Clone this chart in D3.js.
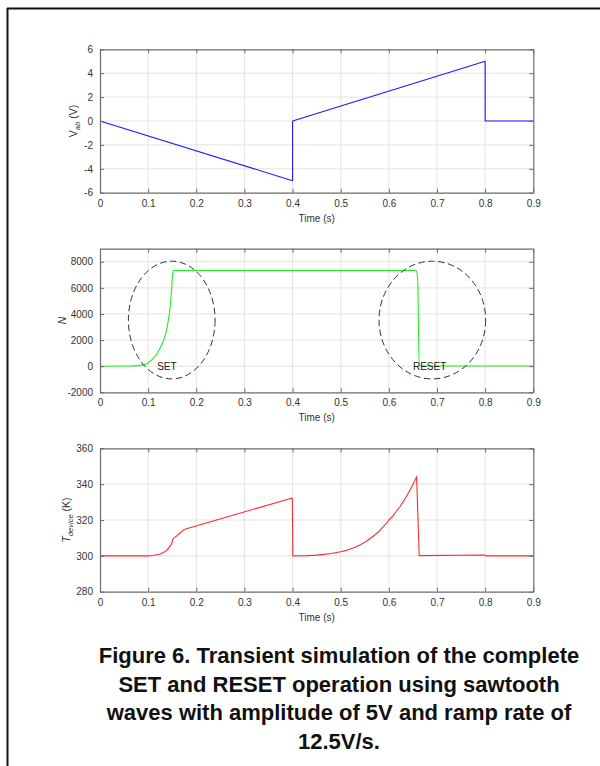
<!DOCTYPE html>
<html>
<head>
<meta charset="utf-8">
<script src="https://cdn.jsdelivr.net/npm/d3@7/dist/d3.min.js"></script>
<style>
  html, body { margin: 0; padding: 0; background: #fff; }
  svg { display: block; }
</style>
</head>
<body>
<svg id="fig" width="600" height="766"></svg>
<script>
// --- data ---
var timeTicks = [0, 0.1, 0.2, 0.3, 0.4, 0.5, 0.6, 0.7, 0.8, 0.9];

var vTime = [0, 0.4, 0.4, 0.8, 0.8, 0.9];
var vVal  = [0, -5, 0, 5, 0, 0];
var vTicks = [-6, -4, -2, 0, 2, 4, 6];

var nTime = [0, 0.06, 0.08, 0.09, 0.1, 0.111, 0.12, 0.125, 0.13, 0.135, 0.139, 0.142, 0.145, 0.147, 0.149, 0.15, 0.151, 0.152, 0.154,
             0.656, 0.658, 0.66, 0.663, 0.9];
var nVal  = [0, 10, 40, 100, 250, 615, 1050, 1385, 1800, 2277, 2900, 3560, 4300, 5100, 6000, 6640, 7050, 7280, 7330,
             7330, 7200, 6500, 20, 20];
var nTicks = [-2000, 0, 2000, 4000, 6000, 8000];

var tTime = [0, 0.1, 0.11, 0.118, 0.125, 0.1315, 0.137, 0.142, 0.146, 0.149, 0.152, 0.155, 0.159, 0.164, 0.1696, 0.174, 0.178,
             0.3995, 0.4005, 0.43, 0.45, 0.465, 0.48, 0.5, 0.51, 0.52, 0.53, 0.54, 0.554, 0.562, 0.57, 0.578, 0.585,
             0.593, 0.6, 0.608, 0.615, 0.623, 0.63, 0.637, 0.644, 0.651, 0.6576,
             0.663, 0.7995, 0.8005, 0.9];
var tVal  = [300, 300, 300.2, 300.6, 301, 301.8, 302.8, 304.2, 305.6, 307, 309.6, 310.3, 311.1, 312.3, 313.5, 314.4, 315,
             332.3, 300, 300.15, 300.4, 300.8, 301.3, 302.3, 302.9, 303.8, 304.8, 306, 308.3, 309.8, 311.5, 313.3, 315.3,
             317.5, 320, 322.2, 324.6, 327.4, 330.3, 333.4, 336.7, 340.3, 344.2,
             300.1, 300.5, 300, 300];
var tTicks = [280, 300, 320, 340, 360];

// dashed ellipses on the N panel: centre time, centre N, half-width (s), half-height (N)
var marks = [
  { label: 'SET',   t: 0.149,  n: 3535, rt: 0.09,   rn: 4510, lt: 0.139,  ln: -50 },
  { label: 'RESET', t: 0.6903, n: 3535, rt: 0.1108, rn: 4510, lt: 0.6846, ln: -50 }
];

var captionLines = [
  'Figure 6. Transient simulation of the complete',
  'SET and RESET operation using sawtooth',
  'waves with amplitude of 5V and ramp rate of',
  '12.5V/s.'
];

// --- drawing ---
var svg = d3.select('#fig');
var font = '"Liberation Sans", Arial, Helvetica, sans-serif';
var left = 100, right = 533.3;
var plain = function(d){ return String(d); };   // keeps "-" hyphen like MATLAB

// page frame (top and left edges of the figure box)
svg.append('line').attr('x1', 7).attr('y1', 8.5).attr('x2', 600).attr('y2', 8.5)
  .attr('stroke', '#111').attr('stroke-width', 2);
svg.append('line').attr('x1', 7.5).attr('y1', 8).attr('x2', 7.5).attr('y2', 766)
  .attr('stroke', '#111').attr('stroke-width', 2);

var x = d3.scaleLinear().domain([0, 0.9]).range([left, right]);

function panel(opt){
  var y = d3.scaleLinear().domain(opt.domain).range([opt.bottom, opt.top]);
  var g = svg.append('g');

  // grid
  g.append('g').selectAll('line').data(timeTicks.slice(1, -1)).enter().append('line')
    .attr('x1', function(d){ return x(d); }).attr('x2', function(d){ return x(d); })
    .attr('y1', opt.top).attr('y2', opt.bottom)
    .attr('stroke', '#e3e3e3').attr('stroke-width', 1);
  g.append('g').selectAll('line').data(opt.ticks.filter(function(d){
      return d !== opt.domain[0] && d !== opt.domain[1];
    })).enter().append('line')
    .attr('x1', left).attr('x2', right)
    .attr('y1', function(d){ return y(d); }).attr('y2', function(d){ return y(d); })
    .attr('stroke', '#e3e3e3').attr('stroke-width', 1);

  // data line
  var pts = opt.t.map(function(t, i){ return [t, opt.v[i]]; });
  g.append('path').datum(pts)
    .attr('fill', 'none').attr('stroke', opt.color).attr('stroke-width', 1.1)
    .attr('stroke-linejoin', 'round')
    .attr('d', d3.line().curve(opt.curve || d3.curveLinear)
      .x(function(d){ return x(d[0]); }).y(function(d){ return y(d[1]); }));

  // axes, MATLAB style box with inward ticks
  var ax = [
    [d3.axisBottom(x).tickValues(timeTicks).tickFormat(plain), 'translate(0,' + opt.bottom + ')', true],
    [d3.axisTop(x).tickValues(timeTicks).tickFormat(''), 'translate(0,' + opt.top + ')', false],
    [d3.axisLeft(y).tickValues(opt.ticks).tickFormat(plain), 'translate(' + left + ',0)', true],
    [d3.axisRight(y).tickValues(opt.ticks).tickFormat(''), 'translate(' + right + ',0)', false]
  ];
  ax.forEach(function(a){
    var axis = a[0].tickSizeInner(-4).tickSizeOuter(0).tickPadding(a[2] ? 7 : 0);
    var s = g.append('g').attr('transform', a[1]).call(axis);
    s.select('.domain').attr('stroke', '#6b6b6b').attr('stroke-width', 1.2);
    s.selectAll('.tick line').attr('stroke', '#6b6b6b');
    s.selectAll('.tick text').attr('fill', '#333').attr('font-size', 10).attr('font-family', font);
  });

  g.append('text').attr('x', (left + right) / 2).attr('y', opt.bottom + 29)
    .attr('text-anchor', 'middle').attr('font-family', font).attr('font-size', 10).attr('fill', '#333')
    .text('Time (s)');

  var lab = g.append('text')
    .attr('transform', 'translate(' + opt.labelX + ',' + (opt.top + opt.bottom) / 2 + ') rotate(-90)')
    .attr('text-anchor', 'middle').attr('font-family', font).attr('font-size', 10.5).attr('fill', '#333');
  opt.label(lab);

  return { g: g, y: y };
}

panel({
  top: 49.3, bottom: 192.7, domain: [-6, 6], ticks: vTicks, t: vTime, v: vVal, color: '#1a1aff', labelX: 77,
  label: function(s){
    s.append('tspan').text('V');
    s.append('tspan').attr('font-size', 7.5).attr('font-style', 'italic').attr('dy', 3).text('ab');
    s.append('tspan').attr('dy', -3).text(' (V)');
  }
});

var pN = panel({
  top: 248.7, bottom: 392.3, domain: [-2000, 9000], ticks: nTicks, t: nTime, v: nVal, color: '#22ee22', labelX: 66,
  curve: d3.curveMonotoneX,
  label: function(s){
    s.append('tspan').attr('font-style', 'italic').text('N');
  }
});

panel({
  top: 448.3, bottom: 591.7, domain: [280, 360], ticks: tTicks, t: tTime, v: tVal, color: '#ff2a2a', labelX: 69.5,
  label: function(s){
    s.append('tspan').attr('font-style', 'italic').text('T');
    s.append('tspan').attr('font-size', 7.5).attr('font-style', 'italic').attr('dy', 3).text('device');
    s.append('tspan').attr('dy', -3).text(' (K)');
  }
});

// ellipses + labels
var yN = pN.y;
pN.g.selectAll('ellipse.mark').data(marks).enter().append('ellipse')
  .attr('class', 'mark')
  .attr('cx', function(d){ return x(d.t); })
  .attr('cy', function(d){ return yN(d.n); })
  .attr('rx', function(d){ return x(d.t + d.rt) - x(d.t); })
  .attr('ry', function(d){ return yN(d.n - d.rn) - yN(d.n); })
  .attr('fill', 'none').attr('stroke', '#333').attr('stroke-width', 1)
  .attr('stroke-dasharray', '6.5,3.5');
pN.g.selectAll('text.mark').data(marks).enter().append('text')
  .attr('class', 'mark')
  .attr('x', function(d){ return x(d.lt); })
  .attr('y', function(d){ return yN(d.ln); })
  .attr('dy', '0.35em')
  .attr('text-anchor', 'middle').attr('font-family', font).attr('font-size', 10).attr('fill', '#222')
  .text(function(d){ return d.label; });

// caption
svg.append('g').selectAll('text').data(captionLines).enter().append('text')
  .attr('x', 339).attr('y', function(d, i){ return 663 + i * 28.7; })
  .attr('text-anchor', 'middle').attr('font-family', font).attr('font-weight', 'bold')
  .attr('font-size', 22).attr('fill', '#111')
  .text(function(d){ return d; });
</script>
</body>
</html>
